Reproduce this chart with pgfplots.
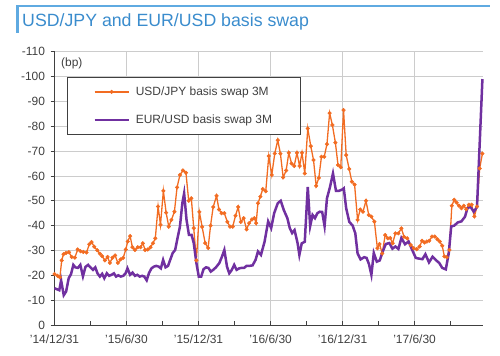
\documentclass[border=0pt]{standalone}
\usepackage{fontspec}
\setmainfont{Liberation Sans}
\usepackage{pgfplots}
\usepackage{pgfplotstable}
\pgfplotsset{compat=1.18}
\definecolor{ttl}{RGB}{58,140,205}
\definecolor{topline}{RGB}{95,170,225}
\definecolor{jpy}{RGB}{242,108,34}
\definecolor{eur}{RGB}{112,48,160}
\definecolor{txt}{RGB}{64,64,64}

\pgfplotstableread{
m v
0.00 -20.5
0.25 -19.8
0.45 -19.2
0.60 -26
0.75 -28.5
0.96 -29
1.20 -29.3
1.43 -27.4
1.70 -27.1
1.93 -30.4
2.17 -29.7
2.40 -29.4
2.67 -29.2
2.90 -32.5
3.09 -33.4
3.31 -31.5
3.56 -30.1
3.78 -28.7
3.97 -27.7
4.20 -26
4.42 -27.4
4.61 -25
4.83 -27.1
5.05 -28
5.28 -25
5.50 -26.4
5.72 -27
5.94 -30.4
6.10 -33.6
6.30 -35.8
6.49 -31.3
6.70 -30.2
6.94 -31.3
7.17 -31.3
7.36 -32.9
7.55 -30.2
7.77 -30.4
8.00 -31.3
8.20 -32.9
8.40 -34.9
8.63 -47.7
8.83 -40.3
9.07 -54
9.30 -45.2
9.52 -39.6
9.74 -42.3
9.99 -45.6
10.21 -55.4
10.45 -60.4
10.70 -62.2
10.95 -61.3
11.18 -50
11.40 -51
11.60 -39
11.82 -26
12.07 -45.5
12.30 -39.5
12.55 -33
12.80 -31
13.00 -40
13.22 -47.5
13.50 -52
13.70 -46.5
13.92 -45
14.15 -45
14.40 -41.5
14.62 -39.6
14.85 -39.6
15.08 -44
15.30 -47.5
15.52 -41.5
15.76 -43
16.00 -38.5
16.22 -41
16.45 -42.5
16.65 -43
16.80 -41
16.95 -49
17.15 -51.7
17.35 -54.7
17.60 -53.8
17.85 -68
18.10 -60.4
18.35 -69
18.60 -74.4
18.82 -69
19.05 -59.4
19.30 -62.2
19.52 -69.3
19.75 -65
19.97 -64
20.20 -69.3
20.42 -64
20.62 -69.3
20.85 -61
21.10 -79.1
21.35 -72
21.58 -66.4
21.80 -56
22.02 -59.2
22.24 -67.7
22.47 -67.7
22.70 -72.8
22.92 -85.3
23.15 -80.5
23.40 -73.4
23.62 -64.4
23.85 -63.5
24.08 -86.5
24.30 -68.4
24.55 -62.8
24.77 -57.7
25.00 -56.5
25.25 -42.3
25.47 -46.5
25.70 -45.6
25.95 -50
26.18 -44.3
26.40 -43.6
26.65 -41.6
26.90 -30.9
27.08 -32.6
27.30 -28.8
27.55 -36.2
27.77 -34.9
27.97 -35
28.17 -32.9
28.40 -36.9
28.65 -36.9
28.90 -38.9
29.12 -35.5
29.38 -34.9
29.68 -32.2
29.93 -30.9
30.17 -30.5
30.42 -31.6
30.62 -33.9
30.82 -33.2
31.02 -33.6
31.22 -33.9
31.45 -35.6
31.68 -35.6
31.90 -34.5
32.10 -33.6
32.30 -31.9
32.48 -27.6
32.68 -27.3
32.90 -30.2
33.10 -48
33.30 -50.4
33.50 -49.3
33.70 -48
33.90 -47
34.10 -48
34.30 -46.6
34.52 -48.4
34.75 -48.4
34.98 -43.7
35.20 -47.7
35.42 -63
35.65 -69
}\jpytable

\pgfplotstableread{
m v
0.00 -14.8
0.20 -14.4
0.40 -14
0.55 -18
0.77 -12
0.97 -13.5
1.18 -18.8
1.38 -20.5
1.57 -24.2
1.74 -23.2
1.95 -23
2.15 -24.2
2.37 -19.6
2.58 -23.4
2.80 -24.2
3.00 -23.2
3.20 -22.2
3.40 -23.2
3.58 -20.8
3.78 -19.5
3.97 -20.6
4.15 -18.8
4.36 -20.8
4.55 -19.8
4.75 -20.2
4.95 -20.8
5.13 -19.5
5.32 -20
5.52 -19.5
5.73 -19.8
5.92 -20.8
6.08 -22.8
6.30 -20.2
6.50 -21.1
6.70 -19.8
6.90 -20.2
7.10 -19.5
7.30 -19.8
7.48 -19.5
7.68 -18
7.88 -21
8.08 -22.8
8.28 -23.5
8.48 -23.8
8.68 -23.5
8.86 -22.8
9.05 -26.2
9.25 -23.2
9.46 -23.8
9.66 -26.5
9.85 -29
10.05 -30.2
10.25 -35
10.45 -39.6
10.65 -49
10.80 -53
11.00 -42.3
11.20 -36.3
11.42 -36.3
11.60 -33
11.82 -25
12.02 -19.5
12.22 -19.5
12.42 -22.5
12.62 -23.2
12.82 -23
13.02 -21.5
13.22 -22.2
13.45 -23.2
13.73 -24.9
13.95 -27.5
14.15 -30.2
14.37 -23.5
14.56 -20.8
14.75 -22
14.97 -24.2
15.17 -22.2
15.39 -22.8
15.58 -23
15.80 -23
16.00 -23.8
16.25 -23.8
16.50 -24
16.75 -26.2
16.95 -29.6
17.20 -28.2
17.50 -33.5
17.80 -41.7
18.05 -39
18.30 -45
18.60 -49
18.85 -50
19.10 -46.3
19.40 -43
19.60 -39
19.80 -37
20.00 -38.2
20.25 -33
20.40 -28.2
20.60 -32.9
20.85 -33.5
21.10 -55.6
21.30 -39.8
21.50 -44.3
21.70 -43
21.90 -45
22.10 -45.6
22.30 -45.5
22.50 -39.8
22.70 -51
22.95 -55.5
23.20 -61
23.45 -54
23.70 -54
24.00 -54.6
24.10 -55
24.30 -47
24.56 -41.5
24.84 -40
25.06 -36.9
25.25 -28.8
25.50 -26.4
25.80 -27.3
26.00 -27
26.20 -24.5
26.40 -20.2
26.60 -29
26.85 -25.5
27.10 -26
27.30 -29
27.60 -32.6
27.90 -33
28.15 -30.7
28.40 -31.6
28.65 -30.6
28.90 -35
29.20 -32.5
29.50 -33.6
29.80 -30.2
30.10 -27
30.40 -26.7
30.65 -26.5
30.90 -28.5
31.20 -25.2
31.50 -27.5
31.80 -26
32.05 -25
32.30 -23
32.60 -22.4
32.85 -29
33.05 -39.7
33.30 -40
33.60 -41.3
33.90 -41.7
34.20 -43.6
34.40 -47
34.65 -47.6
34.93 -45.6
35.20 -47.5
35.65 -99
}\eurtable

\begin{document}
\begin{tikzpicture}[x=1bp,y=1bp]
\path[use as bounding box] (0,0) rectangle (500,355);
\draw[topline, line width=1.5bp] (17,349) -- (490,349);
\fill[topline] (16.3,322) rectangle (18.7,349.5);
\node[anchor=west, text=ttl, font=\fontsize{17.8}{20}\selectfont, inner sep=0pt] at (22,333) {USD/JPY and EUR/USD basis swap};
\begin{axis}[
  at={(54.5bp,30bp)}, anchor=south west,
  scale only axis, width=428.5bp, height=273.3bp,
  xmin=0, xmax=35.7, ymin=-110, ymax=0, y dir=reverse,
  clip=false,
  axis x line*=bottom, axis y line*=left,
  axis line style={txt, line width=0.9bp},
  xtick={0,6,12,18,24,30},
  xticklabels={'14/12/31,'15/6/30,'15/12/31,'16/6/30,'16/12/31,'17/6/30},
  minor xtick={3,9,15,21,27,33},
  ytick={-110,-100,...,0},
  xtick align=inside, ytick align=outside,
  major tick length=4bp, minor tick length=4bp,
  tick style={txt, line width=0.7bp},
  xmajorgrids, ymajorgrids,
  major grid style={gray!40, line width=0.6bp},
  /pgf/number format/assume math mode=true,
  tick label style={font=\fontsize{12}{14}\selectfont, text=txt},
  xticklabel style={yshift=-6bp},
  yticklabel style={xshift=-2bp},
  legend cell align=left,
  legend style={at={(0.029,0.906)}, anchor=north west, draw=txt, line width=0.8bp,
    font=\fontsize{12}{14}\selectfont, text=txt, inner xsep=26bp, inner ysep=7bp, row sep=14bp,
    /tikz/every odd column/.append style={column sep=4bp}},
  legend image code/.code={\draw[mark repeat=2,mark phase=2,#1] plot coordinates {(0bp,0bp) (17bp,0bp) (34bp,0bp)};},
]
\addplot[jpy, line width=1.3bp, mark=*, mark size=1.8bp, mark options={fill=jpy, draw=jpy, line width=0.5bp}] table[x=m,y=v] {\jpytable};
\addlegendentry{USD/JPY basis swap 3M}
\addplot[eur, line width=2.5bp, no marks] table[x=m,y=v] {\eurtable};
\addlegendentry{EUR/USD basis swap 3M}
\end{axis}
\node[anchor=west, text=txt, font=\fontsize{12}{14}\selectfont, inner sep=0pt] at (61,292) {(bp)};
\end{tikzpicture}
\end{document}
